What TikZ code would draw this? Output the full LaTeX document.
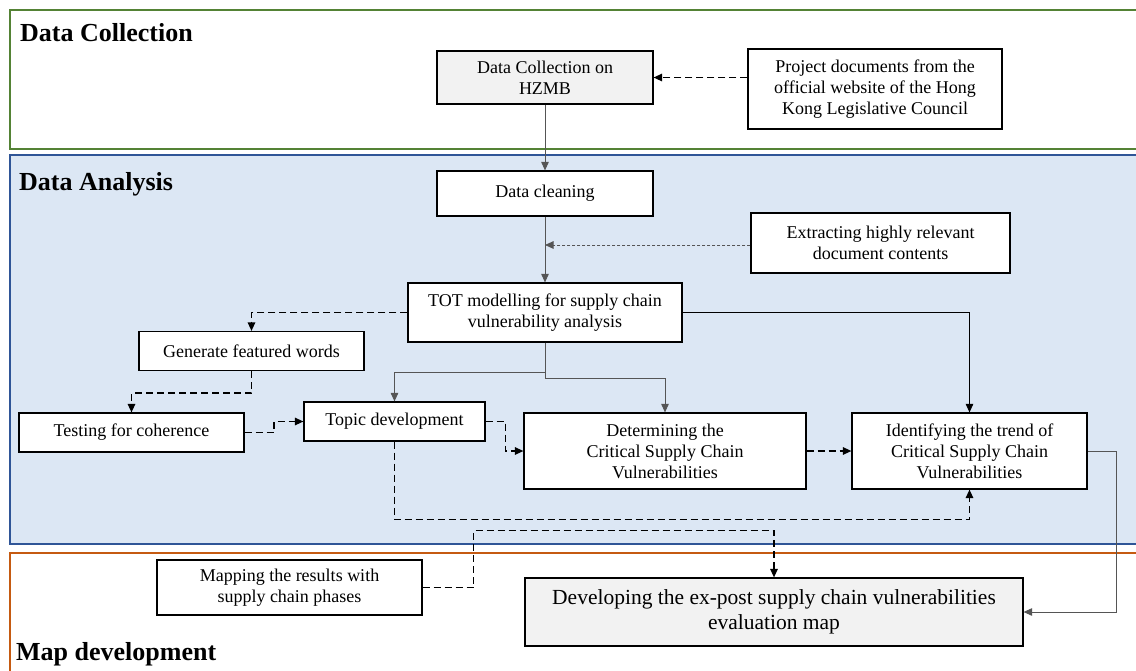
\documentclass[tikz,border=0pt]{standalone}
\usepackage{fontspec}
\setmainfont{Liberation Serif}
\usetikzlibrary{arrows.meta,calc}
\definecolor{frgreen}{HTML}{548235}
\definecolor{frblue}{HTML}{2F5597}
\definecolor{fillblue}{HTML}{DCE7F4}
\definecolor{frorange}{HTML}{C55A11}
\definecolor{boxgray}{HTML}{F2F2F2}
\definecolor{linegray}{HTML}{555555}
\begin{document}
\begin{tikzpicture}[x=1pt,y=-1pt,
  box/.style={draw=black,line width=1.2pt,fill=white,align=center,inner sep=0pt,font=\fontsize{18}{21}\selectfont},
  graybox/.style={box,fill=boxgray},
  title/.style={anchor=base west,inner sep=0pt,font=\fontsize{26}{30}\selectfont\bfseries},
  tip/.style={-{Triangle[length=8.5pt,width=7.5pt]}},
  solidline/.style={draw=linegray,line width=0.9pt},
  solidarrow/.style={solidline,tip},
  blackarrow/.style={draw=black,line width=0.9pt,tip},
  dashline/.style={draw=black,line width=1.3pt,dash pattern=on 7pt off 4pt},
  dasharrow/.style={dashline,tip},
  dotarrow/.style={draw=linegray,line width=0.9pt,dash pattern=on 3pt off 2pt,tip}]
\useasboundingbox (0,0) rectangle (1136,670);
% section frames
\fill[white] (0,0) rectangle (1136,670);
\draw[frgreen,line width=1.2pt] (1140,10) -- (10,10) -- (10,149) -- (1140,149);
\fill[fillblue] (10,155) rectangle (1140,544);
\draw[frblue,line width=1.2pt] (1140,155) -- (10,155) -- (10,544) -- (1140,544);
\draw[frorange,line width=1.2pt] (1140,553) -- (10,553) -- (10,675);
% titles
\node[title] (tcol) at (20,41) {Data Collection};
\node[title] (tana) at (19,190) {Data Analysis};
\node[title] (tmap) at (16,660) {Map development};
% nodes
\node[graybox,minimum width=216pt,minimum height=53pt] (hzmb) at (545,77.5) {Data Collection on\\HZMB};
\node[box,minimum width=254pt,minimum height=80pt] (proj) at (875,89) {Project documents from the\\official website of the Hong\\Kong Legislative Council};
\node[box,minimum width=216pt,minimum height=45pt] (clean) at (545,193.5) {Data cleaning};
\node[box,minimum width=259pt,minimum height=60pt] (extract) at (880.5,243) {Extracting highly relevant\\document contents};
\node[box,minimum width=274pt,minimum height=59pt] (tot) at (545,312.5) {TOT modelling for supply chain\\vulnerability analysis};
\node[box,minimum width=225pt,minimum height=39pt] (gen) at (251.5,351) {Generate featured words};
\node[box,minimum width=225pt,minimum height=39pt] (test) at (131.5,432.5) {Testing for coherence};
\node[box,minimum width=181pt,minimum height=39pt] (topic) at (394.5,421.5) {Topic development};
\node[box,minimum width=282pt,minimum height=76pt] (determ) at (665,451) {Determining the\\Critical Supply Chain\\Vulnerabilities};
\node[box,minimum width=235pt,minimum height=76pt] (ident) at (969.5,451) {Identifying the trend of\\Critical Supply Chain\\Vulnerabilities};
\node[box,minimum width=265pt,minimum height=55pt] (mapping) at (289.5,587.5) {Mapping the results with\\supply chain phases};
\node[graybox,minimum width=498pt,minimum height=68pt,font=\fontsize{21.5}{25}\selectfont] (develop) at (774,612) {Developing the ex-post supply chain vulnerabilities\\evaluation map};
% connectors
\draw[dasharrow] (proj.west |- hzmb.east) -- (hzmb.east);
\draw[solidarrow] (hzmb.south) -- (clean.north);
\draw[solidarrow] (clean.south) -- (tot.north);
\coordinate (exin) at (clean.south |- 0,245);
\draw[dotarrow] (extract.west |- exin) -- (exin);
\draw[dasharrow] (tot.west) -| (gen.north);
\draw[dasharrow] (gen.south) -- ++(0,22) -| (test.north);
\draw[dasharrow] (test.east) -| ($(test.east)!0.5!(topic.west)$) |- (topic.west);
\draw[solidarrow] (tot.south) -- ++(0,30) -| (topic.north);
\draw[solidarrow] (tot.south) -- ++(0,36) -| (determ.north);
\draw[blackarrow] (tot.east) -| (ident.north);
\draw[dasharrow] (topic.east) -- ++(20,0) |- (determ.west);
\draw[dasharrow] (determ.east) -- (ident.west);
\draw[dasharrow] (topic.south) -- ++(0,78) -| (ident.south);
\draw[dasharrow] (mapping.east) -- ++(51,0) -- ++(0,-57) -| (develop.north);
\draw[solidarrow] (ident.east) -- ++(29,0) |- (develop.east);
\end{tikzpicture}
\end{document}
